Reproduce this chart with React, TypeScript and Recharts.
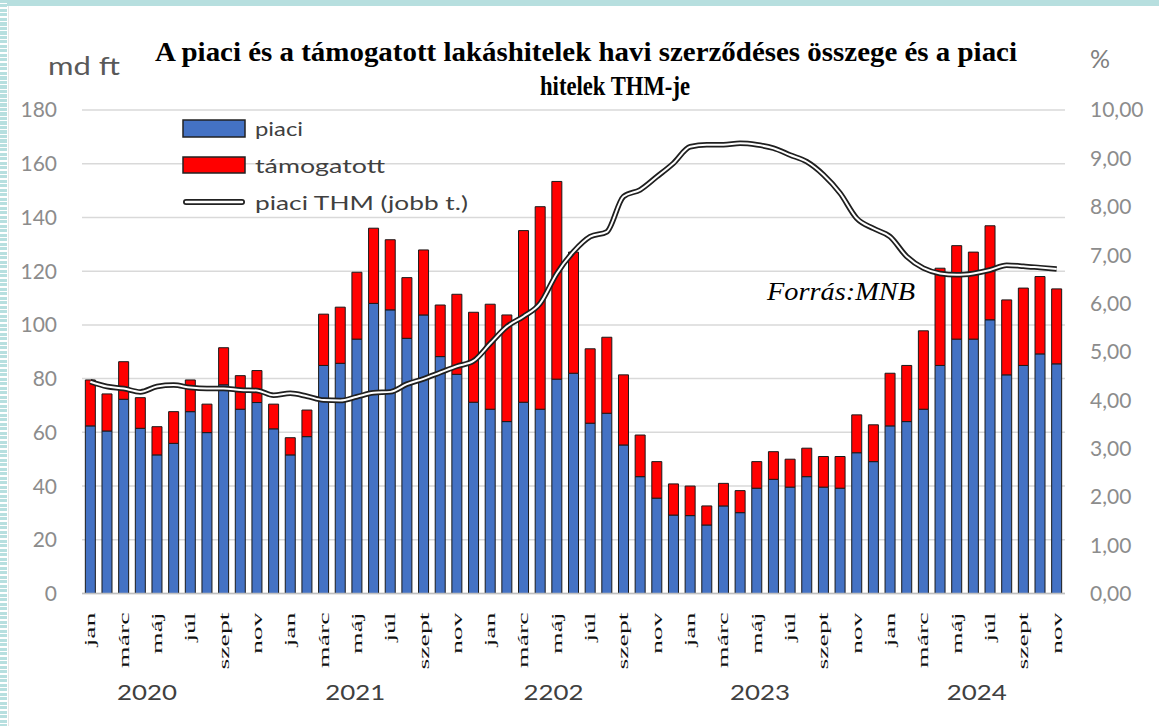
import { ComposedChart, Bar, Line, XAxis, YAxis, CartesianGrid, Legend } from 'recharts';

// havi címkék (csak minden második látszik)
const MONTH_NAMES = ['jan', 'febr', 'márc', 'ápr', 'máj', 'jún', 'júl', 'aug', 'szept', 'okt', 'nov', 'dec'];
const YEAR_LABELS = ['2020', '2021', '2202', '2023', '2024'];
// year label position, in months counted from jan 2020
const YEAR_LABEL_POS = [3.4, 15.9, 27.8, 40.2, 53.2];

// md ft, jan 2020 - nov 2024
const PIACI = [
  62.4, 60.5, 72.3, 61.5, 51.6, 55.9, 67.7, 59.9, 77.7, 68.6, 71.1, 61.3,
  51.6, 58.4, 84.9, 85.7, 94.7, 108.0, 105.6, 95.0, 103.7, 88.2, 81.6, 71.2,
  68.6, 64.0, 71.2, 68.6, 79.8, 82.0, 63.4, 67.1, 55.3, 43.5, 35.5, 29.2,
  29.0, 25.5, 32.6, 30.1, 39.2, 42.5, 39.6, 43.5, 39.6, 39.2, 52.4, 49.1,
  62.4, 64.0, 68.6, 84.9, 94.7, 94.7, 101.9, 81.4, 84.9, 89.2, 85.5,
];
const TAMOGATOTT = [
  17.1, 13.8, 14.0, 11.4, 10.5, 11.8, 11.8, 10.6, 13.8, 12.5, 11.9, 9.2,
  6.4, 9.9, 19.1, 20.9, 24.9, 28.0, 26.1, 22.6, 24.2, 19.2, 29.8, 33.5,
  39.1, 39.7, 63.9, 75.4, 73.6, 45.1, 27.7, 28.3, 26.1, 15.5, 13.6, 11.6,
  11.0, 7.1, 8.4, 8.2, 9.9, 10.3, 10.4, 10.6, 11.4, 11.8, 14.1, 13.7,
  19.6, 20.9, 29.2, 36.2, 34.8, 32.4, 35.0, 27.9, 28.8, 28.8, 27.9,
];
// %
const THM = [
  4.38, 4.28, 4.24, 4.17, 4.28, 4.31, 4.26, 4.24, 4.24, 4.21, 4.20, 4.10,
  4.14, 4.08, 4.00, 3.99, 4.07, 4.15, 4.17, 4.33, 4.44, 4.57, 4.70, 4.81,
  5.17, 5.52, 5.73, 6.00, 6.62, 7.07, 7.38, 7.48, 8.21, 8.35, 8.62, 8.90,
  9.24, 9.28, 9.28, 9.31, 9.28, 9.21, 9.07, 8.93, 8.66, 8.28, 7.76, 7.55,
  7.38, 6.97, 6.73, 6.62, 6.59, 6.62, 6.69, 6.79, 6.77, 6.74, 6.71,
];

const LEFT_TICKS = [0, 20, 40, 60, 80, 100, 120, 140, 160, 180];
const RIGHT_TICKS = [0, 1, 2, 3, 4, 5, 6, 7, 8, 9, 10];

const data = PIACI.map((p, i) => ({
  id: i,
  piaci: p,
  tamogatott: TAMOGATOTT[i],
  thm: THM[i],
}));

const W = 1159;
const H = 726;
const PLOT_LEFT = 82;
const PLOT_RIGHT = 1065;
const BAND = (PLOT_RIGHT - PLOT_LEFT) / data.length;

const axisFont = { fill: '#8c8c8c', fontSize: 21, fontFamily: 'Lato, sans-serif' };

const MonthTick = (props: any) => {
  const { x, y, index } = props;
  const out: any[] = [];
  if (index % 2 === 0) {
    out.push(
      <text
        key="m"
        transform={`translate(${x},${y + 19}) rotate(-90) scale(1.85,1)`}
        textAnchor="end"
        dy="0.33em"
        fontFamily="'Liberation Serif', serif"
        fontSize={15}
        fill="#111"
      >
        {MONTH_NAMES[index % 12]}
      </text>
    );
  }
  YEAR_LABEL_POS.forEach((pos, k) => {
    if (Math.round(pos) === index) {
      out.push(
        <text
          key={'y' + k}
          x={x + (pos - index) * BAND}
          y={y + 106}
          textAnchor="middle"
          fontFamily="Lato, sans-serif"
          fontSize={22}
          fill="#404040"
          textLength={60}
          lengthAdjust="spacingAndGlyphs"
        >
          {YEAR_LABELS[k]}
        </text>
      );
    }
  });
  return <g>{out}</g>;
};

const LegendBox = () => (
  <svg width={320} height={110} style={{ overflow: 'visible' }}>
    <rect x={7} y={12} width={62} height={17} fill="#4472C4" stroke="#222" strokeWidth={1.5} />
    <text x={79} y={20} dominantBaseline="central" fontFamily="Lato, sans-serif" fontSize={20} fill="#404040" textLength={48} lengthAdjust="spacingAndGlyphs">piaci</text>
    <rect x={7} y={49} width={62} height={16} fill="#FF0000" stroke="#222" strokeWidth={1.5} />
    <text x={79} y={57} dominantBaseline="central" fontFamily="Lato, sans-serif" fontSize={20} fill="#404040" textLength={130} lengthAdjust="spacingAndGlyphs">támogatott</text>
    <line x1={10} y1={94} x2={66} y2={94} stroke="#222" strokeWidth={6} strokeLinecap="round" />
    <line x1={10} y1={94} x2={66} y2={94} stroke="#fff" strokeWidth={2.5} strokeLinecap="round" />
    <text x={79} y={94} dominantBaseline="central" fontFamily="Lato, sans-serif" fontSize={20} fill="#404040" textLength={213} lengthAdjust="spacingAndGlyphs">piaci THM (jobb t.)</text>
  </svg>
);

export default function App() {
  return (
    <div style={{ position: 'absolute', left: 0, top: 0, width: W, height: H, background: '#fff', overflow: 'hidden' }}>
      {/* keret */}
      <div style={{ position: 'absolute', left: 0, top: 0, width: W, height: 6, background: '#b7dfdf' }} />
      <div
        style={{
          position: 'absolute', left: 0, top: 0, width: 7, height: H,
          background: 'repeating-linear-gradient(to bottom, #b7dfdf 0px, #b7dfdf 3px, #ffffff 3px, #ffffff 4.5px)',
        }}
      />
      <div style={{ position: 'absolute', left: 8, top: 6, width: 1, height: H, background: '#e6e6e6' }} />

      <ComposedChart width={W} height={H} data={data} barCategoryGap="20%" margin={{ top: 110, right: 0, bottom: 0, left: 0 }}>
        <CartesianGrid yAxisId="left" vertical={false} stroke="#d9d9d9" strokeWidth={1.5} />
        <XAxis
          dataKey="id"
          interval={0}
          height={132.5}
          tickLine={false}
          tickSize={0}
          tickMargin={0}
          axisLine={{ stroke: '#bfbfbf', strokeWidth: 1.5 }}
          tick={<MonthTick />}
        />
        <YAxis
          yAxisId="left"
          width={82}
          domain={[0, 180]}
          ticks={LEFT_TICKS}
          axisLine={false}
          tickLine={false}
          tickSize={0}
          tickMargin={25}
          tick={axisFont}
        />
        <YAxis
          yAxisId="right"
          orientation="right"
          width={94}
          domain={[0, 10]}
          ticks={RIGHT_TICKS}
          axisLine={false}
          tickLine={false}
          tickSize={0}
          tickMargin={25}
          tick={axisFont}
          tickFormatter={(v: number) => v.toFixed(2).replace('.', ',')}
        />
        <Legend
          layout="vertical"
          align="center"
          verticalAlign="middle"
          wrapperStyle={{ left: 176, top: 108, width: 320, height: 110 }}
          content={() => <LegendBox />}
        />
        <Bar yAxisId="left" dataKey="piaci" name="piaci" stackId="s" fill="#4472C4" stroke="#1a1a1a" strokeWidth={1} isAnimationActive={false} />
        <Bar yAxisId="left" dataKey="tamogatott" name="támogatott" stackId="s" fill="#FF0000" stroke="#1a1a1a" strokeWidth={1} isAnimationActive={false} />
        <Line yAxisId="right" type="monotone" dataKey="thm" name="piaci THM (jobb t.)" stroke="#1f1f1f" strokeWidth={5.5} dot={false} activeDot={false} isAnimationActive={false} />
        <Line yAxisId="right" type="monotone" dataKey="thm" stroke="#ffffff" strokeWidth={2} dot={false} activeDot={false} legendType="none" isAnimationActive={false} />
      </ComposedChart>

      <svg width={W} height={H} style={{ position: 'absolute', left: 0, top: 0, pointerEvents: 'none' }}>
        <text x={155} y={61} fontFamily="'Liberation Serif', serif" fontWeight="bold" fontSize={27} fill="#000" textLength={862} lengthAdjust="spacingAndGlyphs">
          A piaci és a támogatott lakáshitelek havi szerződéses összege és a piaci
        </text>
        <text x={540} y={95} fontFamily="'Liberation Serif', serif" fontWeight="bold" fontSize={27} fill="#000" textLength={150} lengthAdjust="spacingAndGlyphs">
          hitelek THM-je
        </text>
        <text x={48} y={75} fontFamily="Lato, sans-serif" fontSize={25} fill="#595959" textLength={72} lengthAdjust="spacingAndGlyphs">md ft</text>
        <text x={1090} y={68} fontFamily="Lato, sans-serif" fontSize={25} fill="#7f7f7f">%</text>
        <text x={767} y={300} fontFamily="'Liberation Serif', serif" fontStyle="italic" fontSize={26} fill="#000" textLength={148} lengthAdjust="spacingAndGlyphs">Forrás:MNB</text>
      </svg>
    </div>
  );
}
